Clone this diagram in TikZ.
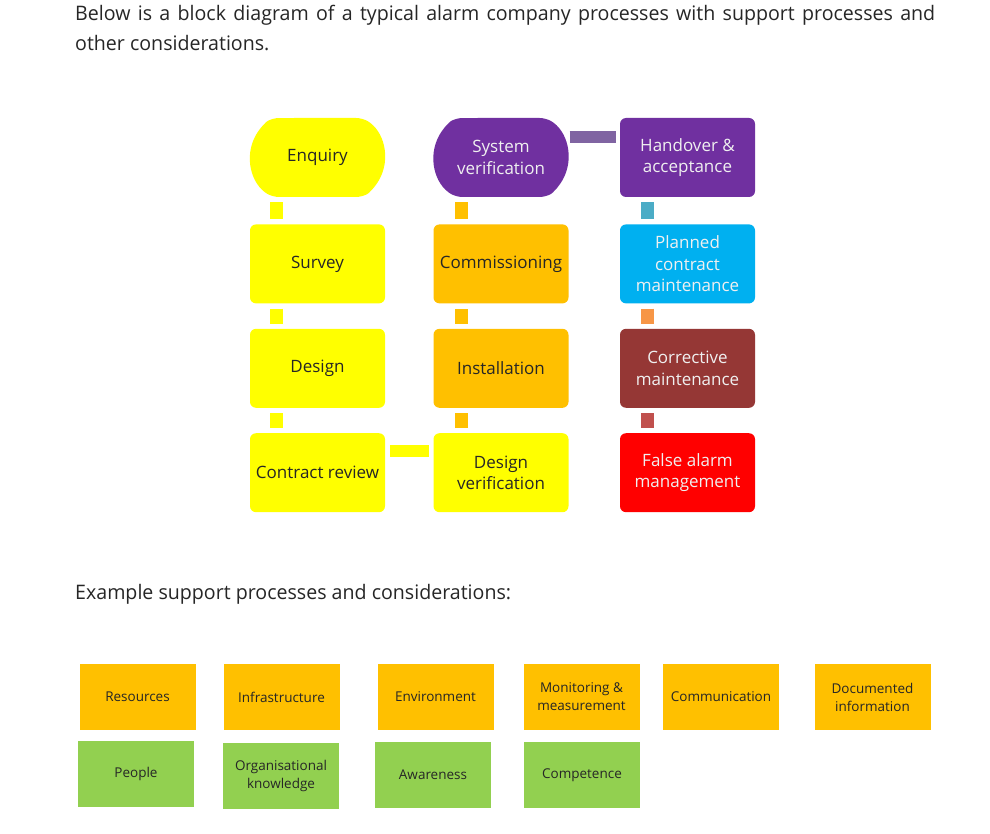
\documentclass[tikz,border=0pt]{standalone}
\usepackage{fontspec}
\setmainfont{Open Sans}
\newfontfamily\bodyfont[FakeStretch=0.98]{Open Sans}
\usetikzlibrary{positioning,shapes.misc}

\definecolor{procyellow}{HTML}{FFFF00}
\definecolor{procorange}{HTML}{FFC000}
\definecolor{procpurple}{HTML}{7030A0}
\definecolor{procblue}{HTML}{00B0F0}
\definecolor{procbrown}{HTML}{953735}
\definecolor{procred}{HTML}{FF0000}
\definecolor{suppgreen}{HTML}{92D050}
\definecolor{linkpurple}{HTML}{8064A2}
\definecolor{linkteal}{HTML}{4BACC6}
\definecolor{linkorange}{HTML}{F79646}
\definecolor{linkred}{HTML}{C0504D}

\tikzset{
  proc/.style={rectangle, rounded corners=6pt, minimum width=135pt, minimum height=79pt,
    align=center, inner sep=2pt, font=\fontsize{17}{21.5}\selectfont, text=black!85},
  endproc/.style={proc, rounded rectangle, rounded rectangle arc length=120, minimum width=139pt},
  light/.style={text=white!94!black},
  supp/.style={rectangle, minimum width=116pt, minimum height=66pt, align=center,
    inner sep=2pt, font=\fontsize{13.5}{18}\selectfont, text=black!85},
  link/.style={line width=13pt, shorten <=5pt, shorten >=5pt},
  para/.style={font=\bodyfont\fontsize{20}{30}\selectfont, text=black!85}
}

\begin{document}
\begin{tikzpicture}[x=1pt, y=-1pt, node distance=26pt and 49pt]

  \fill[white] (0,0) rectangle (990,834);
  \useasboundingbox (0,0) rectangle (990,834);

  % heading text
  \node[para, anchor=north west, text width=860pt, align=justify, inner sep=0pt] (intro) at (75,5)
    {Below is a block diagram of a typical alarm company processes with support processes and\linebreak other considerations.};

  % core processes
  \node[endproc, fill=procyellow] (enq) at (317.5,157.5) {Enquiry};
  \node[proc, fill=procyellow] (sur) [below=27pt of enq] {Survey};
  \node[proc, fill=procyellow] (des) [below=25pt of sur] {Design};
  \node[proc, fill=procyellow] (crev) [below=25pt of des] {Contract review};

  \node[endproc, fill=procpurple, light] (sysv) at (501,157.5) {System\\verification};
  \node[proc, fill=procorange] (comm) [below=27pt of sysv] {Commissioning};
  \node[proc, fill=procorange] (inst) [below=25pt of comm] {Installation};
  \node[proc, fill=procyellow] (desv) [below=25pt of inst] {Design\\verification};

  \node[proc, fill=procpurple, light] (hand) at (687.5,157.5) {Handover \&\\acceptance};
  \node[proc, fill=procblue, light] (plan) [below=27pt of hand] {Planned\\contract\\maintenance};
  \node[proc, fill=procbrown, light] (corr) [below=25pt of plan] {Corrective\\maintenance};
  \node[proc, fill=procred, light] (fals) [below=25pt of corr] {False alarm\\management};

  % links
  \draw[link, procyellow] ([xshift=-41pt]enq.south) -- ([xshift=-41pt]sur.north);
  \draw[link, procyellow] ([xshift=-41pt]sur.south) -- ([xshift=-41pt]des.north);
  \draw[link, procyellow] ([xshift=-41pt]des.south) -- ([xshift=-41pt]crev.north);
  \draw[link, procyellow, line width=12pt, shorten >=4pt] ([yshift=22pt]crev.east) -- ([yshift=22pt]desv.west);
  \draw[link, procorange] ([xshift=-40pt]desv.north) -- ([xshift=-40pt]inst.south);
  \draw[link, procorange] ([xshift=-40pt]inst.north) -- ([xshift=-40pt]comm.south);
  \draw[link, procorange] ([xshift=-40pt]comm.north) -- ([xshift=-40pt]sysv.south);
  \draw[link, linkpurple, line width=12pt, shorten <=1pt, shorten >=4pt] ([yshift=20pt]sysv.east) -- ([yshift=20pt]hand.west);
  \draw[link, linkteal] ([xshift=-40pt]hand.south) -- ([xshift=-40pt]plan.north);
  \draw[link, linkorange] ([xshift=-40pt]plan.south) -- ([xshift=-40pt]corr.north);
  \draw[link, linkred] ([xshift=-40pt]corr.south) -- ([xshift=-40pt]fals.north);

  % support processes
  \node[para, anchor=west, inner sep=0pt] (extitle) at (75,594) {Example support processes and considerations:};

  \node[supp, fill=procorange] (res) at (137.5,697) {Resources};
  \node[supp, fill=procorange] (infr) at (281.5,697) {Infrastructure};
  \node[supp, fill=procorange] (env) at (435.5,697) {Environment};
  \node[supp, fill=procorange] (mon) at (581.5,697) {Monitoring \&\\measurement};
  \node[supp, fill=procorange] (comn) at (721,697) {Communication};
  \node[supp, fill=procorange] (doc) at (872.5,697) {Documented\\information};

  \node[supp, fill=suppgreen] (peop) at (136,773.5) {People};
  \node[supp, fill=suppgreen] (know) at (281,775.5) {Organisational\\knowledge};
  \node[supp, fill=suppgreen] (awar) at (433,775) {Awareness};
  \node[supp, fill=suppgreen] (comp) at (582,775) {Competence};

\end{tikzpicture}
\end{document}
